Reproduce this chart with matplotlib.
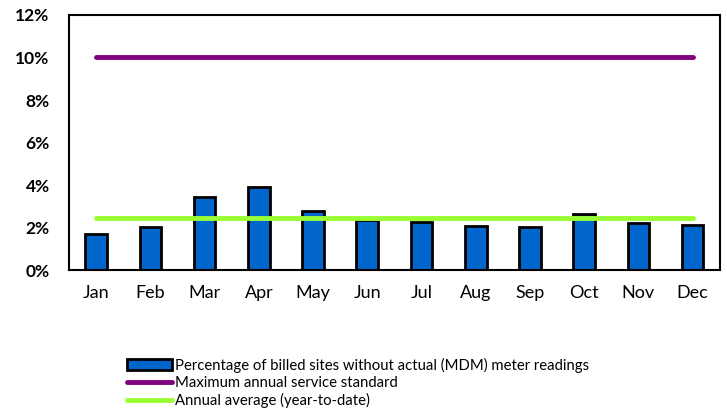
import numpy as np
import matplotlib
matplotlib.use("Agg")
import matplotlib.pyplot as plt
from matplotlib.ticker import PercentFormatter

months = ["Jan", "Feb", "Mar", "Apr", "May", "Jun",
          "Jul", "Aug", "Sep", "Oct", "Nov", "Dec"]
pct_without_reads = [1.69, 2.04, 3.45, 3.89, 2.78, 2.38,
                     2.27, 2.07, 2.01, 2.62, 2.20, 2.12]
max_standard = 10.0
annual_average = 2.45

plt.rcParams['font.family'] = ['Lato', 'DejaVu Sans']

fig = plt.figure(figsize=(7.27, 4.15), dpi=100)
ax = fig.add_axes((0.095, 0.349, 0.895, 0.615))

x = np.arange(len(months))
bars = ax.bar(x, pct_without_reads, width=0.4, color="#0066CC", edgecolor="black",
              linewidth=2, zorder=2,
              label="Percentage of billed sites without actual (MDM) meter readings")
l1, = ax.plot([x[0], x[-1]], [max_standard, max_standard], color="#800080", lw=3.5,
              solid_capstyle="round", zorder=3, label="Maximum annual service standard")
l2, = ax.plot([x[0], x[-1]], [annual_average, annual_average], color="#99FF33", lw=3.5,
              solid_capstyle="round", zorder=3, label="Annual average (year-to-date)")

ax.set_xlim(-0.5, 11.5)
ax.set_ylim(0, 12)
ax.set_yticks(np.arange(0, 13, 2))
ax.yaxis.set_major_formatter(PercentFormatter(decimals=0))
ax.set_xticks(x)
ax.set_xticklabels(months)
ax.tick_params(axis="both", length=0)
ax.tick_params(axis="x", pad=11, labelsize=13)
ax.tick_params(axis="y", pad=14, labelsize=12.5)
for lbl in ax.get_yticklabels():
    lbl.set_fontweight("bold")
for s in ax.spines.values():
    s.set_linewidth(1.5)

fig.legend(handles=[bars, l1, l2], loc="upper left", bbox_to_anchor=(0.175, 0.138),
           frameon=False, fontsize=10.7, handlelength=3.0, handletextpad=0.2,
           labelspacing=0.2, borderpad=0, borderaxespad=0)

fig.savefig("out.png", dpi=100)
